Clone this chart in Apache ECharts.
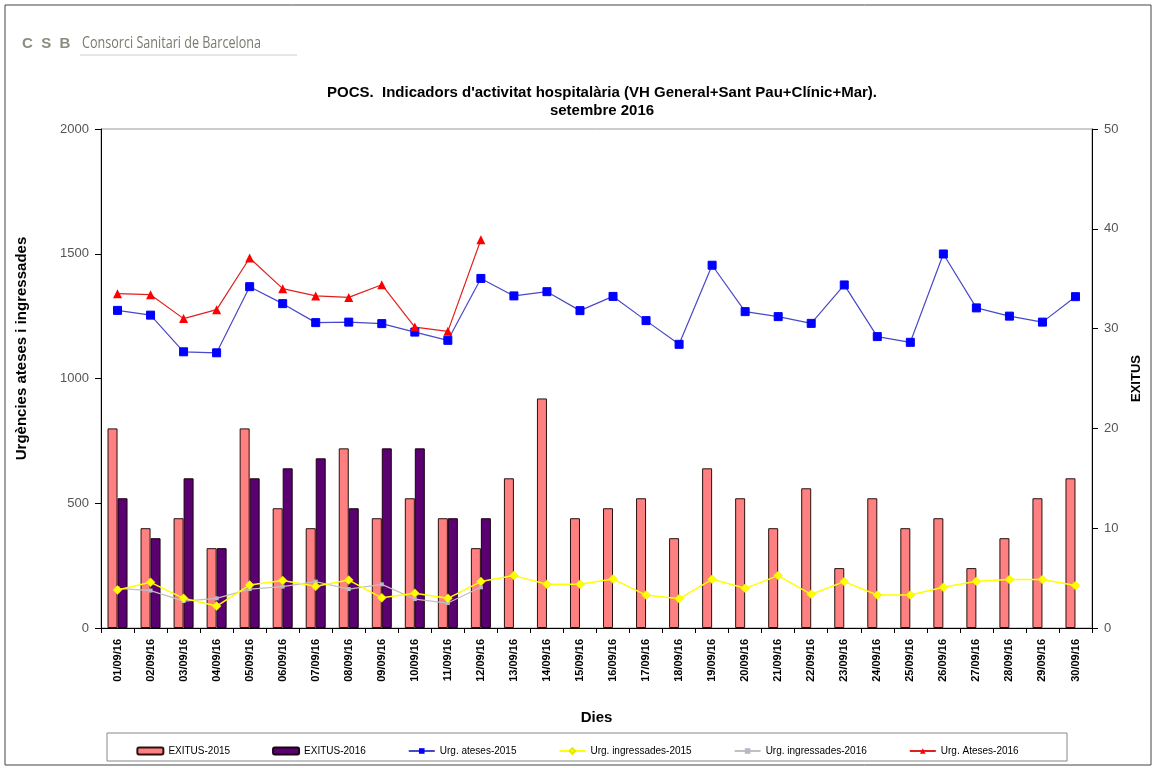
<!DOCTYPE html>
<html>
<head>
<meta charset="utf-8">
<script src="https://cdn.jsdelivr.net/npm/echarts@6/dist/echarts.min.js"></script>
<style>
html,body{margin:0;padding:0;background:#fff;}
#chart{width:1155px;height:768px;}
</style>
</head>
<body>
<div id="chart"></div>
<script>
const days = ["01/09/16","02/09/16","03/09/16","04/09/16","05/09/16","06/09/16","07/09/16","08/09/16","09/09/16","10/09/16",
"11/09/16","12/09/16","13/09/16","14/09/16","15/09/16","16/09/16","17/09/16","18/09/16","19/09/16","20/09/16",
"21/09/16","22/09/16","23/09/16","24/09/16","25/09/16","26/09/16","27/09/16","28/09/16","29/09/16","30/09/16"];
const exitus2015 = [20,10,11,8,20,12,10,18,11,13,11,8,15,23,11,12,13,9,16,13,10,14,6,13,10,11,6,9,13,15];
const exitus2016 = [13,9,15,8,15,16,17,12,18,18,11,11];
const ateses2015 = [1273,1254,1107,1103,1368,1300,1224,1226,1220,1186,1153,1401,1331,1348,1272,1329,1232,1137,1454,1268,1248,1221,1375,1168,1145,1499,1283,1250,1226,1328];
const ingress2015 = [152,183,119,88,172,190,167,192,121,139,119,186,210,175,175,196,132,117,195,159,210,135,186,132,132,163,187,194,194,170];
const ingress2016 = [159,150,108,119,156,166,186,156,175,116,100,163];
const ateses2016 = [1340,1336,1240,1276,1483,1360,1331,1325,1376,1206,1189,1556];
const leftTicks = [0,500,1000,1500,2000];
const rightTicks = [0,10,20,30,40,50];

const chart = echarts.init(document.getElementById('chart'), null, {renderer:'canvas'});
const FONT = 'Liberation Sans, Arial, sans-serif';
chart.setOption({
  animation:false,
  backgroundColor:'#fff',
  title:{
    text:"POCS.  Indicadors d'activitat hospitalària (VH General+Sant Pau+Clínic+Mar).\nsetembre 2016",
    left:597, top:79, textAlign:'center',
    textStyle:{fontFamily:FONT,fontSize:15,fontWeight:'bold',color:'#000',lineHeight:18}
  },
  graphic:[
    {type:'rect',shape:{x:5,y:5,width:1146,height:760},style:{fill:'none',stroke:'#444',lineWidth:1},silent:true},
    {type:'text',left:22,top:36,style:{text:'C  S  B',font:'bold 15px '+FONT,fill:'#8c8c82'}},
    {type:'text',x:82,y:35,scaleX:0.74,style:{text:'Consorci Sanitari de Barcelona',font:'17px "Open Sans", '+FONT,fill:'#7a7a72'}},
    {type:'line',shape:{x1:80,y1:55,x2:297,y2:55},style:{stroke:'#ccc',lineWidth:1}},
    {type:'rect',shape:{x:107,y:733,width:960,height:28},style:{fill:'none',stroke:'#888',lineWidth:1},silent:true}
  ],
  legend:{
    left:'center', top:741, itemGap:42, itemWidth:26, itemHeight:7,
    textStyle:{fontFamily:FONT,fontSize:10,color:'#000'},
    data:['EXITUS-2015','EXITUS-2016','Urg. ateses-2015','Urg. ingressades-2015','Urg. ingressades-2016','Urg. Ateses-2016']
  },
  grid:{left:101,right:63,top:129,bottom:140,show:true,borderColor:'#999',borderWidth:1},
  xAxis:{
    type:'category', data:days, boundaryGap:true,
    name:'Dies', nameLocation:'middle', nameGap:82,
    nameTextStyle:{fontFamily:FONT,fontSize:15,fontWeight:'bold',color:'#000'},
    axisLine:{lineStyle:{color:'#000',width:1}},
    axisTick:{show:true,length:5,lineStyle:{color:'#000'}},
    axisLabel:{rotate:90,margin:11,fontFamily:FONT,fontSize:11,fontWeight:'bold',color:'#000',interval:0},
    splitLine:{show:false}
  },
  yAxis:[
    {type:'value',min:0,max:2000,interval:500,
     name:'Urgències ateses i ingressades',nameLocation:'middle',nameGap:72,nameRotate:90,
     nameTextStyle:{fontFamily:FONT,fontSize:15,fontWeight:'bold',color:'#000',padding:[0,0,0,60]},
     axisLine:{show:true,lineStyle:{color:'#000'}},
     axisTick:{show:true,length:6,lineStyle:{color:'#000'}},
     axisLabel:{margin:12,fontFamily:FONT,fontSize:13,color:'#555',
       formatter:v=>leftTicks.includes(v)?String(v):''},
     splitLine:{show:false}},
    {type:'value',min:0,max:50,interval:10,position:'right',
     name:'EXITUS',nameLocation:'middle',nameGap:38,nameRotate:90,
     nameTextStyle:{fontFamily:FONT,fontSize:13,fontWeight:'bold',color:'#000'},
     axisLine:{show:true,lineStyle:{color:'#000'}},
     axisTick:{show:true,length:6,lineStyle:{color:'#000'}},
     axisLabel:{margin:12,fontFamily:FONT,fontSize:13,color:'#555',
       formatter:v=>rightTicks.includes(v)?String(v):''},
     splitLine:{show:false}}
  ],
  series:[
    {name:'EXITUS-2015',type:'bar',yAxisIndex:1,data:exitus2015,barWidth:10,barGap:'0%',
     itemStyle:{color:'#FF8080',borderColor:'#2a1010',borderWidth:1}},
    {name:'EXITUS-2016',type:'bar',yAxisIndex:1,data:exitus2016,barWidth:10,barGap:'0%',
     itemStyle:{color:'#5a0070',borderColor:'#1a0010',borderWidth:1}},
    {name:'Urg. ateses-2015',type:'line',yAxisIndex:0,data:ateses2015,z:5,
     symbol:'rect',symbolSize:8,lineStyle:{color:'#4848c8',width:1.2},
     itemStyle:{color:'#0000FF',borderColor:'#0000FF'}},
    {name:'Urg. ingressades-2015',type:'line',yAxisIndex:0,data:ingress2015,z:6,
     symbol:'diamond',symbolSize:9,lineStyle:{color:'#FFFF00',width:1.5},
     itemStyle:{color:'#FFFF00',borderColor:'#E8E800',borderWidth:0.5}},
    {name:'Urg. ingressades-2016',type:'line',yAxisIndex:0,data:ingress2016,z:4,
     symbol:'rect',symbolSize:4,lineStyle:{color:'#C0C0C0',width:1.2},
     itemStyle:{color:'#B8B8C8'}},
    {name:'Urg. Ateses-2016',type:'line',yAxisIndex:0,data:ateses2016,z:5,
     symbol:'triangle',symbolSize:9,lineStyle:{color:'#E02020',width:1.2},
     itemStyle:{color:'#FF0000'}}
  ]
});
</script>
</body>
</html>
